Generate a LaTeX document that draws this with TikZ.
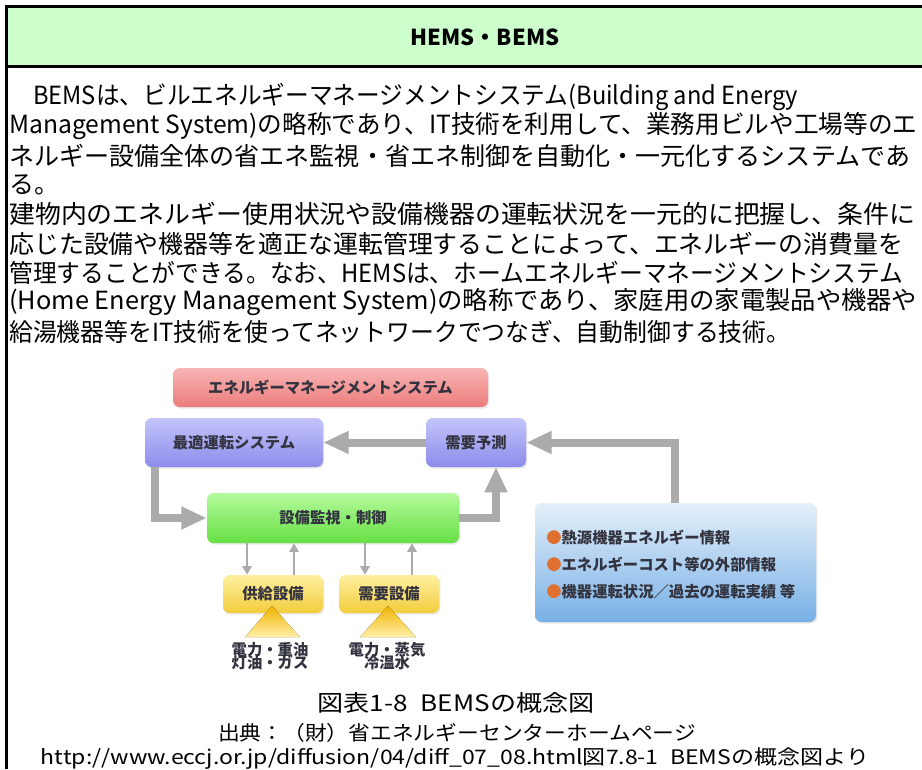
\documentclass[tikz,border=0pt]{standalone}
\usepackage{fontspec}
\usepackage{graphicx}
\setmainfont{Noto Sans CJK JP}
\usetikzlibrary{arrows.meta,shadows,calc}
\newlength\pxu \setlength\pxu{0.75pt}
\definecolor{hdrgreen}{HTML}{CCFFCC}
\definecolor{arrgray}{HTML}{ABABAB}
\definecolor{txtc}{HTML}{33333F}
\definecolor{bullet}{HTML}{E07030}
\definecolor{pinkT}{HTML}{F8B4B4}
\definecolor{pinkB}{HTML}{EC7C7C}
\definecolor{blueT}{HTML}{C4C4FA}
\definecolor{blueB}{HTML}{8C8CEC}
\definecolor{greenT}{HTML}{B4FA9C}
\definecolor{greenB}{HTML}{66E044}
\definecolor{infoT}{HTML}{E4F0FA}
\definecolor{infoB}{HTML}{78B0E6}
\definecolor{yelT}{HTML}{FFF0A0}
\definecolor{yelB}{HTML}{F2CC3C}
\definecolor{triT}{HTML}{F2B400}
\definecolor{triB}{HTML}{FFEFA8}
\newcommand{\bodyline}[2]{\resizebox{#1\pxu}{\height}{#2}}
\tikzset{
  bodytxt/.style={anchor=west, inner sep=0pt, font=\fontsize{18.75pt}{22pt}\selectfont},
  capt/.style={inner sep=0pt},
  rbox/.style={rounded corners=5pt, inner sep=0pt, text=txtc,
    font=\bfseries\fontsize{11.5pt}{13pt}\selectfont,
    drop shadow={opacity=0.18, shadow xshift=1pt, shadow yshift=-1.2pt}},
  pinkbox/.style={rbox, top color=pinkT, bottom color=pinkB},
  bluebox/.style={rbox, top color=blueT, bottom color=blueB},
  greenbox/.style={rbox, top color=greenT, bottom color=greenB},
  infobox/.style={rbox, top color=infoT, bottom color=infoB},
  yelbox/.style={rbox, top color=yelT, bottom color=yelB},
  bigarrow/.style={draw=arrgray, line width=6pt, -{Triangle[width=16pt,length=19pt]}},
  smallarrow/.style={draw=arrgray, line width=2.2pt, -{Triangle[width=7pt,length=6.5pt]}},
  srctxt/.style={text=txtc, font=\bfseries\fontsize{11.5pt}{13pt}\selectfont, inner sep=0pt, align=center},
}
\begin{document}
\begin{tikzpicture}[x=0.75pt,y=-0.75pt]
\useasboundingbox (0,0) rectangle (922,769);
\fill[white] (0,0) rectangle (922,769);
% header
\fill[hdrgreen] (7,7) rectangle (922,65);
\draw[line width=2.25pt] (922,6) -- (6.5,6) -- (6.5,769);
\draw[line width=2.25pt] (6.5,66) -- (922,66);
\node[font=\bfseries\fontsize{16.5pt}{18pt}\selectfont] (title) at (485,37) {HEMS・BEMS};
% body text
\node[bodytxt] (l1) at (33,97) {\bodyline{765}{BEMSは、ビルエネルギーマネージメントシステム(Building and Energy}};
\node[bodytxt] (l2) at (9,126) {\bodyline{908}{Management System)の略称であり、IT技術を利用して、業務用ビルや工場等のエ}};
\node[bodytxt] (l3) at (9,155.5) {\bodyline{901}{ネルギー設備全体の省エネ監視・省エネ制御を自動化・一元化するシステムであ}};
\node[bodytxt] (l4) at (9,185) {る。};
\node[bodytxt] (l5) at (9,214) {\bodyline{906}{建物内のエネルギー使用状況や設備機器の運転状況を一元的に把握し、条件に}};
\node[bodytxt] (l6) at (9,243.5) {\bodyline{894}{応じた設備や機器等を適正な運転管理することによって、エネルギーの消費量を}};
\node[bodytxt] (l7) at (9,273) {\bodyline{894}{管理することができる。なお、HEMSは、ホームエネルギーマネージメントシステム}};
\node[bodytxt] (l8) at (9,302.5) {\bodyline{908}{(Home Energy Management System)の略称であり、家庭用の家電製品や機器や}};
\node[bodytxt] (l9) at (9,332) {\bodyline{781}{給湯機器等をIT技術を使ってネットワークでつなぎ、自動制御する技術。}};
% diagram boxes
\node[pinkbox, minimum width=315\pxu, minimum height=39\pxu] (ems) at (330.5,387.5) {エネルギーマネージメントシステム};
\node[bluebox, minimum width=178\pxu, minimum height=49\pxu] (opt) at (234,442.5) {最適運転システム};
\node[bluebox, minimum width=100\pxu, minimum height=49\pxu] (jyo) at (476,442.5) {需要予測};
\node[greenbox, minimum width=252\pxu, minimum height=50\pxu] (mon) at (333,518) {設備監視・制御};
\node[infobox, minimum width=281\pxu, minimum height=119\pxu] (info) at (675.5,562.5) {};
\node[yelbox, minimum width=100\pxu, minimum height=38\pxu] (sup) at (273,594) {供給設備};
\node[yelbox, minimum width=100\pxu, minimum height=38\pxu] (dem) at (389,594) {需要設備};
% info lines
\node[srctxt, anchor=west] (i1) at (546,538) {\textcolor{bullet}{●}熱源機器エネルギー情報};
\node[srctxt, anchor=west] (i2) at (546,565) {\textcolor{bullet}{●}エネルギーコスト等の外部情報};
\node[srctxt, anchor=west] (i3) at (546,592) {\textcolor{bullet}{●}機器運転状況／過去の運転実績 等};
% triangles
\fill[top color=triT, bottom color=triB] (245,637) -- (272,606) -- (300,637) -- cycle;
\fill[top color=triT, bottom color=triB] (360,637) -- (388,606) -- (416,637) -- cycle;
\node[srctxt] (s1) at (270,656) {電力・重油\\[-3pt]灯油・ガス};
\node[srctxt] (s2) at (387,656) {電力・蒸気\\[-3pt]冷温水};
% arrows
\coordinate (b0) at (675,503);
\coordinate (c1) at (496,467);
\coordinate (d0) at (155,467);
\draw[bigarrow] (jyo.west) -- (opt.east);
\draw[bigarrow] (b0) |- (jyo.east);
\draw[bigarrow] (mon.east) -| (c1);
\draw[bigarrow] (d0) |- (mon.west);
\coordinate (x1) at (247,0);
\coordinate (x2) at (294,0);
\coordinate (x3) at (365,0);
\coordinate (x4) at (412,0);
\draw[smallarrow] (x1 |- mon.south) -- (x1 |- sup.north);
\draw[smallarrow] (x2 |- sup.north) -- (x2 |- mon.south);
\draw[smallarrow] (x3 |- mon.south) -- (x3 |- dem.north);
\draw[smallarrow] (x4 |- dem.north) -- (x4 |- mon.south);
% captions
\node[capt, font=\fontsize{17pt}{18pt}\selectfont] (cap) at (456,703) {\resizebox{277\pxu}{\height}{図表1-8\hspace{0.5em}BEMSの概念図}};
\node[capt, font=\fontsize{15pt}{16pt}\selectfont] (src) at (457,733) {\resizebox{478\pxu}{\height}{出典：（財）省エネルギーセンターホームページ}};
\node[capt, font=\fontsize{15pt}{16pt}\selectfont] (url) at (455,759) {\resizebox{828\pxu}{\height}{http://www.eccj.or.jp/diffusion/04/diff\_07\_08.html図7.8-1\hspace{0.5em}BEMSの概念図より}};
\end{tikzpicture}
\end{document}
